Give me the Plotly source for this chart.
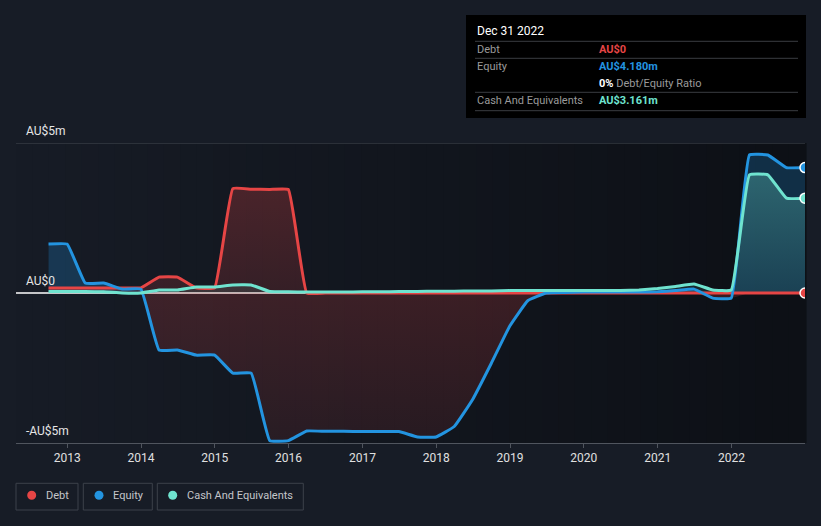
import numpy as np
import plotly.graph_objects as go

# ---------------- data (AU$ millions, quarterly) ----------------
dates = [
    "2012-09-30", "2012-12-31", "2013-03-31", "2013-06-30", "2013-09-30", "2013-12-31",
    "2014-03-31", "2014-06-30", "2014-09-30", "2014-12-31", "2015-03-31", "2015-06-30",
    "2015-09-30", "2015-12-31", "2016-03-31", "2016-06-30", "2016-09-30", "2016-12-31",
    "2017-03-31", "2017-06-30", "2017-09-30", "2017-12-31", "2018-03-31", "2018-06-30",
    "2018-09-30", "2018-12-31", "2019-03-31", "2019-06-30", "2019-09-30", "2019-12-31",
    "2020-03-31", "2020-06-30", "2020-09-30", "2020-12-31", "2021-03-31", "2021-06-30",
    "2021-09-30", "2021-12-31", "2022-03-31", "2022-06-30", "2022-09-30", "2022-12-31",
]
equity = [
    1.63, 1.63, 0.33, 0.33, 0.13, 0.13,
    -1.90, -1.90, -2.07, -2.07, -2.67, -2.67,
    -4.92, -4.92, -4.60, -4.61, -4.61, -4.62,
    -4.62, -4.62, -4.80, -4.80, -4.45, -3.55,
    -2.35, -1.10, -0.25, 0.00, 0.02, 0.03,
    0.03, 0.03, 0.03, 0.04, 0.08, 0.13,
    -0.17, -0.17, 4.60, 4.60, 4.18, 4.180,
]
debt = [
    0.17, 0.17, 0.17, 0.17, 0.17, 0.17,
    0.53, 0.53, 0.17, 0.17, 3.48, 3.46,
    3.45, 3.45, 0, 0, 0, 0,
    0, 0, 0, 0, 0, 0,
    0, 0, 0, 0, 0, 0,
    0, 0, 0, 0, 0, 0,
    0, 0, 0, 0, 0, 0,
]
cash = [
    0.05, 0.05, 0.05, 0.04, 0.00, 0.00,
    0.10, 0.10, 0.20, 0.20, 0.27, 0.27,
    0.05, 0.04, 0.03, 0.03, 0.03, 0.04,
    0.04, 0.05, 0.05, 0.06, 0.06, 0.07,
    0.07, 0.08, 0.08, 0.08, 0.08, 0.08,
    0.08, 0.08, 0.10, 0.15, 0.22, 0.30,
    0.10, 0.10, 3.94, 3.94, 3.16, 3.161,
]
year_ticks = [2013, 2014, 2015, 2016, 2017, 2018, 2019, 2020, 2021, 2022]
y_labels = ["AU$5m", "AU$0", "-AU$5m"]
y_label_vals = [5, 0, -5]

# ---------------- style ----------------
RED = "#e64545"
BLUE = "#2394e0"
TEAL = "#6fe3cf"
PAPER = "#171c26"
FONT = "Roboto"
W, H = 821, 526
ML, MR, MT, MB = 16, 16, 143, 83
PW, PH = W - ML - MR, H - MT - MB


def px_x(px):
    return (px - ML) / PW


def px_y(py):
    return (H - MB - py) / PH


eq = np.array(equity)
eq_pos = np.maximum(eq, 0)
eq_neg = np.minimum(eq, 0)
line_kw = dict(shape="spline", smoothing=0.3)

fig = go.Figure()

# fills
fig.add_trace(go.Scatter(x=dates, y=eq_pos, mode="none", fill="tozeroy",
                         fillcolor="rgba(35,148,224,0.24)", hoverinfo="skip",
                         line=line_kw))
fig.add_trace(go.Scatter(x=dates, y=eq_neg, mode="none", fill="tozeroy",
                         fillgradient=dict(type="vertical",
                                           colorscale=[[0, "rgba(229,69,69,0.10)"],
                                                       [1, "rgba(229,69,69,0.20)"]]),
                         hoverinfo="skip", line=line_kw))
fig.add_trace(go.Scatter(x=dates, y=debt, mode="none", fill="tozeroy",
                         fillgradient=dict(type="vertical",
                                           colorscale=[[0, "rgba(229,69,69,0.16)"],
                                                       [1, "rgba(229,69,69,0.26)"]]),
                         hoverinfo="skip", line=line_kw))
fig.add_trace(go.Scatter(x=dates, y=cash, mode="none", fill="tozeroy",
                         fillgradient=dict(type="vertical",
                                           colorscale=[[0, "rgba(111,227,207,0.10)"],
                                                       [1, "rgba(111,227,207,0.30)"]]),
                         hoverinfo="skip", line=line_kw))

# lines
for vals, col in [(debt, RED), (equity, BLUE), (cash, TEAL)]:
    fig.add_trace(go.Scatter(x=dates, y=vals, mode="lines",
                             line=dict(color=col, width=3, **line_kw),
                             hoverinfo="skip"))
# end markers
for vals, col in [(debt, RED), (equity, BLUE), (cash, TEAL)]:
    fig.add_trace(go.Scatter(x=[dates[-1]], y=[vals[-1]], mode="markers",
                             marker=dict(color=col, size=10,
                                         line=dict(color="white", width=1.5)),
                             cliponaxis=True, hoverinfo="skip"))

shapes = []
# background gradient strips of plot area
n = 48
c0 = np.array([23, 28, 38])
c1 = np.array([13, 16, 22])
for i in range(n):
    t = (i + 0.5) / n
    c = (c0 * (1 - t) + c1 * t).astype(int)
    shapes.append(dict(type="rect", xref="paper", yref="paper",
                       x0=i / n, x1=(i + 1) / n + 0.002, y0=0, y1=1,
                       fillcolor=f"rgb({c[0]},{c[1]},{c[2]})",
                       line=dict(width=0), layer="below"))
# top gridline and zero line
shapes.append(dict(type="line", xref="paper", yref="y", x0=0, x1=1, y0=5, y1=5,
                   line=dict(color="#454a53", width=1), layer="below"))
shapes.append(dict(type="line", xref="paper", yref="y", x0=0, x1=1, y0=0, y1=0,
                   line=dict(color="#ffffff", width=1.6), layer="below"))

annotations = []
for lab, v in zip(y_labels, y_label_vals):
    annotations.append(dict(x=px_x(24), xref="paper", y=v, yref="y",
                            text=lab, showarrow=False, xanchor="left",
                            yanchor="bottom", yshift=3,
                            font=dict(family=FONT, size=12, color="#e6e6e6")))

# tooltip box
shapes.append(dict(type="rect", xref="paper", yref="paper",
                   x0=px_x(466), x1=px_x(806), y0=px_y(118), y1=px_y(15),
                   fillcolor="#000000", line=dict(width=0), layer="above"))
for ly in [41.3, 58.3, 92.3, 110.7]:
    shapes.append(dict(type="line", xref="paper", yref="paper",
                       x0=px_x(475), x1=px_x(798), y0=px_y(ly), y1=px_y(ly),
                       line=dict(color="#3a3d42", width=1), layer="above"))


def tip(px, py, text, color, size=11):
    annotations.append(dict(x=px_x(px), y=px_y(py), xref="paper", yref="paper",
                            text=text, showarrow=False, xanchor="left",
                            yanchor="middle",
                            font=dict(family=FONT, size=size, color=color)))


tip(475, 31, "Dec 31 2022", "#ffffff", 12)
tip(475, 49, "Debt", "#9a9a9a")
tip(597, 49, f"<b>AU${debt[-1]:.0f}</b>", RED)
tip(475, 66, "Equity", "#9a9a9a")
tip(597, 66, f"<b>AU${equity[-1]:.3f}m</b>", BLUE)
ratio = debt[-1] / equity[-1] * 100
tip(597, 83, f"<span style='color:#ffffff'><b>{ratio:.0f}%</b></span> Debt/Equity Ratio", "#9a9a9a")
tip(475, 100, "Cash And Equivalents", "#9a9a9a")
tip(597, 100, f"<b>AU${cash[-1]:.3f}m</b>", TEAL)

# legend boxes
legend_items = [("Debt", RED, 16, 78, 31.7, 44.3),
                ("Equity", BLUE, 83.3, 152.3, 99, 111),
                ("Cash And Equivalents", TEAL, 157.3, 303.3, 172.7, 185.3)]
for name, col, bx0, bx1, dx, tx in legend_items:
    shapes.append(dict(type="rect", xref="paper", yref="paper",
                       x0=px_x(bx0), x1=px_x(bx1), y0=px_y(510), y1=px_y(483.3),
                       line=dict(color="#3c414a", width=1), fillcolor="rgba(0,0,0,0)"))
    shapes.append(dict(type="circle", xref="paper", yref="paper",
                       x0=px_x(dx - 4.5), x1=px_x(dx + 4.5),
                       y0=px_y(495.3 + 4.5), y1=px_y(495.3 - 4.5),
                       fillcolor=col, line=dict(width=0)))
    annotations.append(dict(x=px_x(tx), y=px_y(495.5), xref="paper", yref="paper",
                            text=name, showarrow=False, xanchor="left",
                            yanchor="middle",
                            font=dict(family=FONT, size=11, color="#c4c6ca")))

fig.update_layout(
    width=W, height=H,
    margin=dict(l=ML, r=MR, t=MT, b=MB),
    paper_bgcolor=PAPER, plot_bgcolor="rgba(0,0,0,0)",
    showlegend=False,
    shapes=shapes, annotations=annotations,
    font=dict(family=FONT, size=12, color="#e0e0e0"),
    xaxis=dict(type="date", range=["2012-04-22", "2022-12-31"],
               tickvals=[f"{y}-01-01" for y in year_ticks],
               ticktext=[str(y) for y in year_ticks],
               showgrid=False, zeroline=False, showline=True,
               linecolor="#50555e", linewidth=1, ticks="outside",
               ticklen=4, tickcolor="#50555e",
               tickfont=dict(family=FONT, size=12, color="#e0e0e0")),
    yaxis=dict(range=[-5, 5], showgrid=False, zeroline=False,
               showticklabels=False, showline=False),
)

fig.write_html("out.html")
